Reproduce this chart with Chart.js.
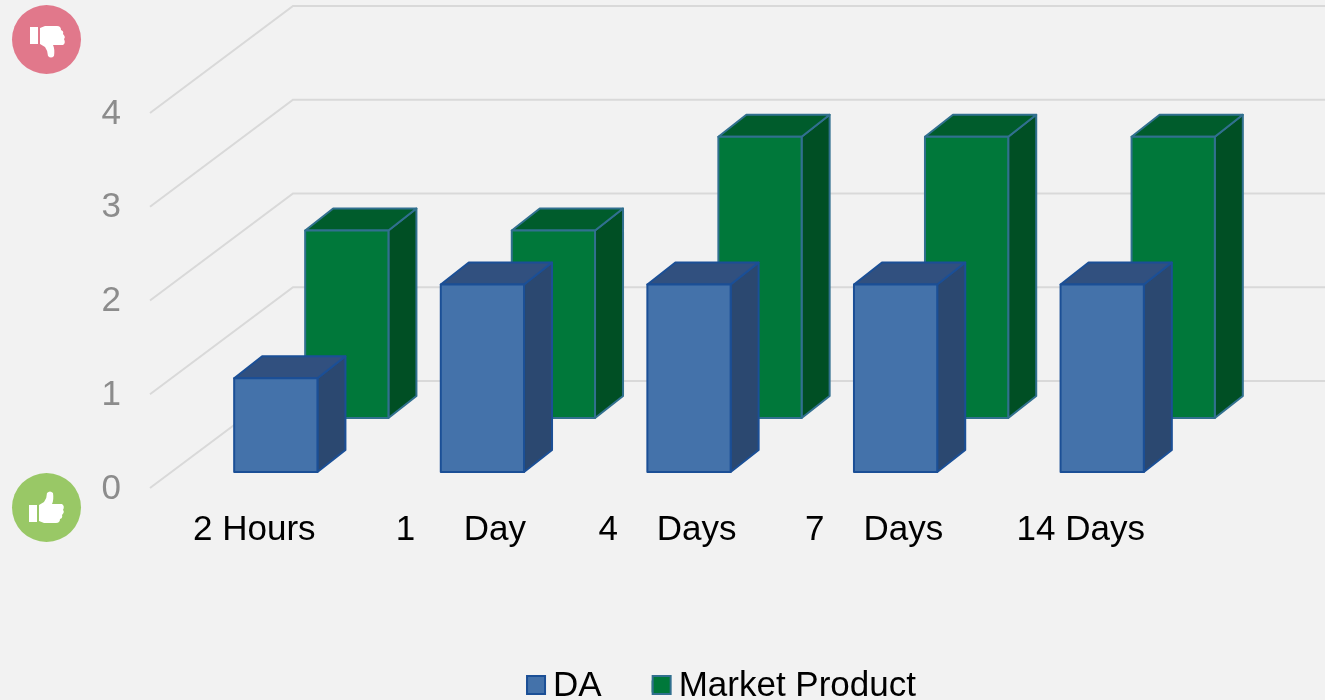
<!DOCTYPE html>
<html><head><meta charset="utf-8">
<style>html,body{margin:0;padding:0;background:#f2f2f2;overflow:hidden}#w{width:1325px;height:700px;position:relative}</style>
<script src="https://cdn.jsdelivr.net/npm/chart.js@4"></script></head>
<body><div id="w"><canvas id="c" width="1325" height="700"></canvas></div>
<script>
const categories = ['2 Hours', '1     Day', '4    Days', '7    Days', '14 Days'];
const daValues = [1, 2, 2, 2, 2];
const marketValues = [2, 2, 3, 3, 3];
const yTicks = [0, 1, 2, 3, 4];

const FONT = '"Liberation Sans", Arial, sans-serif';
const WALL = {dx: 143, dy: -107};
const LOOK = [
  {dx: 21.5, dy: -16, depthX: 28, depthY: -22, top: '#31507F', side: '#2B4870'},
  {dx: 92.5, dy: -70, depthX: 28, depthY: -22, top: '#005C2C', side: '#004F24'}
];

function poly(ctx, pts, fill, stroke, lw) {
  ctx.beginPath();
  pts.forEach((p, i) => i ? ctx.lineTo(p[0], p[1]) : ctx.moveTo(p[0], p[1]));
  ctx.closePath();
  ctx.fillStyle = fill; ctx.fill();
  ctx.lineJoin = 'round';
  ctx.lineWidth = lw; ctx.strokeStyle = stroke; ctx.stroke();
}

function thumb(ctx, cx, cy, down) {
  ctx.save();
  ctx.translate(cx, cy);
  if (down) ctx.scale(1, -1);
  ctx.fillStyle = '#fff';
  ctx.fillRect(-18, -7, 8, 17);
  ctx.beginPath();
  ctx.moveTo(-8, -7);
  ctx.lineTo(-3, -10);
  ctx.quadraticCurveTo(0, -14, 0, -19);
  ctx.quadraticCurveTo(3, -22, 6, -19);
  ctx.quadraticCurveTo(7, -12, 5, -8);
  ctx.lineTo(15, -8);
  ctx.quadraticCurveTo(18, -6, 16, -2);
  ctx.quadraticCurveTo(18, 0, 15, 3);
  ctx.quadraticCurveTo(16, 6, 13, 7);
  ctx.quadraticCurveTo(13, 11, 9, 11);
  ctx.lineTo(-3, 11);
  ctx.lineTo(-8, 9);
  ctx.closePath();
  ctx.fill();
  ctx.restore();
}

const scene3d = {
  id: 'scene3d',
  afterLayout(chart) {
    const lg = chart.legend;
    const shift = 721 - (lg.left + lg.right) / 2;
    lg.left += shift; lg.right += shift;
    lg.top += 14; lg.bottom += 14;
  },
  beforeDatasetsDraw(chart) {
    const {ctx, chartArea, scales: {y}} = chart;
    ctx.save();
    ctx.strokeStyle = '#d9d9d9';
    ctx.lineWidth = 2;
    yTicks.forEach(v => {
      const py = y.getPixelForValue(v);
      ctx.beginPath();
      ctx.moveTo(chartArea.left - 1, py);
      ctx.lineTo(chartArea.left + WALL.dx - 1, py + WALL.dy);
      ctx.lineTo(chart.width, py + WALL.dy);
      ctx.stroke();
    });
    ctx.restore();
  },
  beforeDatasetDraw(chart, args) {
    const look = LOOK[args.index], ctx = chart.ctx;
    const stroke = chart.data.datasets[args.index].borderColor;
    ctx.save();
    ctx.translate(look.dx, look.dy);
    args.meta.data.forEach(b => {
      const p = b.getProps(['x', 'y', 'base', 'width'], true);
      const l = p.x - p.width / 2, r = p.x + p.width / 2;
      const ex = look.depthX, ey = look.depthY;
      poly(ctx, [[r, p.y], [r + ex, p.y + ey], [r + ex, p.base + ey], [r, p.base]], look.side, stroke, 2);
      poly(ctx, [[l, p.y], [l + ex, p.y + ey], [r + ex, p.y + ey], [r, p.y]], look.top, stroke, 2);
    });
  },
  afterDatasetDraw(chart, args) {
    const ctx = chart.ctx;
    ctx.strokeStyle = chart.data.datasets[args.index].borderColor;
    ctx.lineWidth = 2;
    args.meta.data.forEach(b => {
      const p = b.getProps(['x', 'y', 'base', 'width'], true);
      ctx.strokeRect(p.x - p.width / 2, p.y, p.width, p.base - p.y);
    });
    ctx.restore();
  },
  afterDraw(chart) {
    const ctx = chart.ctx;
    chart.legend.legendHitBoxes.forEach((h, i) => {
      const ds = chart.data.datasets[i];
      ctx.fillStyle = ds.backgroundColor;
      ctx.strokeStyle = ds.borderColor;
      ctx.lineWidth = 2;
      ctx.fillRect(h.left + 1, 676, 18, 18);
      ctx.strokeRect(h.left + 1, 676, 18, 18);
    });
    ctx.save();
    ctx.fillStyle = '#E1788B';
    ctx.beginPath(); ctx.arc(46.5, 39.5, 34.5, 0, Math.PI * 2); ctx.fill();
    ctx.fillStyle = '#99C866';
    ctx.beginPath(); ctx.arc(46.5, 507.5, 34.5, 0, Math.PI * 2); ctx.fill();
    thumb(ctx, 48, 37, true);
    thumb(ctx, 47, 512, false);
    ctx.restore();
  }
};

new Chart(document.getElementById('c'), {
  type: 'bar',
  data: {
    labels: categories,
    datasets: [
      {label: 'DA', data: daValues, backgroundColor: '#4472AA', borderColor: '#1B4F96', borderWidth: 0, clip: false},
      {label: 'Market Product', data: marketValues, backgroundColor: '#00783A', borderColor: '#31708F', borderWidth: 0, clip: false}
    ]
  },
  plugins: [scene3d, {id: 'bg', beforeDraw(c) {c.ctx.fillStyle = '#f2f2f2'; c.ctx.fillRect(0, 0, c.width, c.height);}}],
  options: {
    responsive: false,
    animation: false,
    layout: {padding: {top: 113, right: 141, left: 0, bottom: 0}},
    datasets: {bar: {grouped: false, barPercentage: 0.403, categoryPercentage: 1}},
    plugins: {
      tooltip: {enabled: false},
      legend: {
        position: 'bottom',
        labels: {boxWidth: 9.5, boxHeight: 12, padding: 50, color: '#000',
          font: {family: FONT, size: 35}}
      }
    },
    scales: {
      x: {
        grid: {display: false, drawTicks: false},
        border: {display: false},
        ticks: {color: '#000', maxRotation: 0, autoSkip: false, padding: 21, font: {family: FONT, size: 35}},
        afterFit(s) { s.height = 117; }
      },
      y: {
        min: 0, max: 4,
        grid: {display: false, drawTicks: false},
        border: {display: false},
        afterBuildTicks(s) { s.ticks = yTicks.map(value => ({value})); },
        ticks: {color: '#8C8C8C', padding: 30, labelOffset: 1, font: {family: FONT, size: 35}},
        afterFit(s) { s.width = 151; }
      }
    }
  }
});
</script></body></html>
